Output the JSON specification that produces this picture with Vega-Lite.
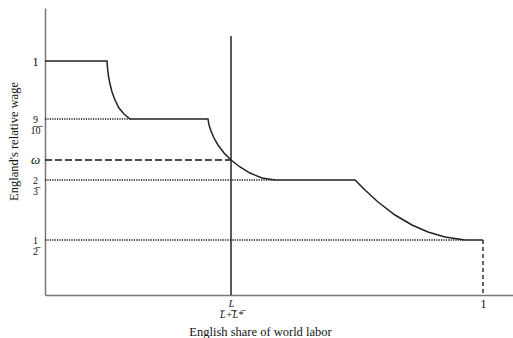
{
  "$schema": "https://vega.github.io/schema/vega-lite/v6.json",
  "width": 468,
  "height": 287,
  "autosize": "none",
  "padding": {"left": 45, "top": 8, "right": 0, "bottom": 43},
  "background": "white",
  "config": {"view": {"stroke": null}, "font": "Liberation Serif"},
  "datasets": {
    "curve": [
      {"i": 0, "share": 0, "wage": 1},
      {"i": 1, "share": 0.1416, "wage": 1},
      {"i": 2, "share": 0.1427, "wage": 0.9879},
      {"i": 3, "share": 0.145, "wage": 0.9741},
      {"i": 4, "share": 0.1484, "wage": 0.9603},
      {"i": 5, "share": 0.153, "wage": 0.9466},
      {"i": 6, "share": 0.1598, "wage": 0.9328},
      {"i": 7, "share": 0.1689, "wage": 0.919},
      {"i": 8, "share": 0.1804, "wage": 0.9086},
      {"i": 9, "share": 0.1941, "wage": 0.9},
      {"i": 10, "share": 0.3721, "wage": 0.9},
      {"i": 11, "share": 0.3744, "wage": 0.8771},
      {"i": 12, "share": 0.379, "wage": 0.8541},
      {"i": 13, "share": 0.3858, "wage": 0.8273},
      {"i": 14, "share": 0.395, "wage": 0.8006},
      {"i": 15, "share": 0.4087, "wage": 0.7699},
      {"i": 16, "share": 0.4247, "wage": 0.7432},
      {"i": 17, "share": 0.4452, "wage": 0.7164},
      {"i": 18, "share": 0.468, "wage": 0.6934},
      {"i": 19, "share": 0.4954, "wage": 0.6743},
      {"i": 20, "share": 0.5251, "wage": 0.6667},
      {"i": 21, "share": 0.7078, "wage": 0.6667},
      {"i": 22, "share": 0.7306, "wage": 0.6389},
      {"i": 23, "share": 0.7603, "wage": 0.6056},
      {"i": 24, "share": 0.7991, "wage": 0.5694},
      {"i": 25, "share": 0.8379, "wage": 0.5417},
      {"i": 26, "share": 0.8744, "wage": 0.5222},
      {"i": 27, "share": 0.9132, "wage": 0.5083},
      {"i": 28, "share": 0.9589, "wage": 0.5},
      {"i": 29, "share": 1.0, "wage": 0.5}
    ],
    "levels": [
      {"share": 0, "share2": 0.1941, "wage": 0.9},
      {"share": 0, "share2": 0.5251, "wage": 0.6667},
      {"share": 0, "share2": 0.9589, "wage": 0.5}
    ],
    "omega": [
      {"share": 0, "share2": 0.4247, "wage": 0.7432}
    ],
    "supply": [
      {"share": 0.4247, "wage": 1.0431, "wage2": 0.3472}
    ],
    "endpoint": [
      {"share": 1.0, "wage": 0.5, "wage2": 0.3472}
    ]
  },
  "layer": [
    {
      "data": {"name": "levels"},
      "mark": {"type": "rule", "color": "#111", "strokeWidth": 1.3, "strokeDash": [1.2, 1.2]},
      "encoding": {
        "x": {
          "field": "share", "type": "quantitative",
          "scale": {"domain": [0, 1.0685], "nice": false, "zero": false},
          "axis": {
            "values": [0.4247, 1],
            "title": "English share of world labor",
            "titleFont": "Liberation Serif",
            "titleFontSize": 12.5,
            "titleFontWeight": "normal",
            "titleColor": "#111",
            "titleX": 215,
            "titleY": 40,
            "titleBaseline": "alphabetic",
            "ticks": false,
            "tickSize": 0,
            "grid": false,
            "domainColor": "#777",
            "domainWidth": 1.5,
            "labelOverlap": false,
            "labelFont": "Liberation Serif",
            "labelFontSize": {"condition": {"test": "datum.value < 0.9", "value": 10}, "value": 12},
            "labelColor": "#111",
            "labelBaseline": "top",
            "labelPadding": 3,
            "labelLineHeight": 11,
            "labelFontStyle": {"condition": {"test": "datum.value < 0.9", "value": "italic"}, "value": "normal"},
            "labelExpr": "datum.value > 0.9 ? '1' : ['L', 'L̅+̅L̅*̅']"
          }
        },
        "x2": {"field": "share2"},
        "y": {
          "field": "wage", "type": "quantitative",
          "scale": {
            "domain": [0.3472, 0.5, 0.6667, 0.9, 1, 1.0914],
            "range": [287, 232, 172, 111, 53, 0],
            "nice": false, "zero": false
          },
          "axis": {
            "values": [0.5, 0.6667, 0.7432, 0.9, 1],
            "title": "England's relative wage",
            "titleFont": "Liberation Serif",
            "titleFontSize": 12.5,
            "titleFontWeight": "normal",
            "titleColor": "#111",
            "titleAngle": -90,
            "titleX": -32,
            "titleY": 133,
            "titleBaseline": "middle",
            "ticks": false,
            "tickSize": 0,
            "grid": false,
            "domainColor": "#777",
            "domainWidth": 1.5,
            "labelOverlap": false,
            "labelFont": "Liberation Serif",
            "labelFontSize": {"condition": {"test": "datum.value > 0.95 || (datum.value > 0.7 && datum.value < 0.8)", "value": 13}, "value": 10},
            "labelColor": "#111",
            "labelAlign": "center",
            "labelBaseline": "middle",
            "labelPadding": 10,
            "labelLineHeight": 11,
            "labelFontStyle": {"condition": {"test": "datum.value > 0.7 && datum.value < 0.8", "value": "italic"}, "value": "normal"},
            "labelExpr": "datum.value > 0.95 ? '1' : datum.value > 0.85 ? ['9', '1̅0̅'] : datum.value > 0.7 ? 'ω' : datum.value > 0.6 ? ['2', '3̅'] : ['1', '2̅']"
          }
        }
      }
    },
    {
      "data": {"name": "omega"},
      "mark": {"type": "rule", "color": "#111", "strokeWidth": 1.4, "strokeDash": [7, 3]},
      "encoding": {
        "x": {"field": "share", "type": "quantitative"},
        "x2": {"field": "share2"},
        "y": {"field": "wage", "type": "quantitative"}
      }
    },
    {
      "data": {"name": "supply"},
      "mark": {"type": "rule", "color": "#333", "strokeWidth": 1.6},
      "encoding": {
        "x": {"field": "share", "type": "quantitative"},
        "y": {"field": "wage", "type": "quantitative"},
        "y2": {"field": "wage2"}
      }
    },
    {
      "data": {"name": "endpoint"},
      "mark": {"type": "rule", "color": "#111", "strokeWidth": 1.3, "strokeDash": [4, 3]},
      "encoding": {
        "x": {"field": "share", "type": "quantitative"},
        "y": {"field": "wage", "type": "quantitative"},
        "y2": {"field": "wage2"}
      }
    },
    {
      "data": {"name": "curve"},
      "mark": {"type": "line", "color": "#222", "strokeWidth": 1.5, "interpolate": "linear"},
      "encoding": {
        "x": {"field": "share", "type": "quantitative"},
        "y": {"field": "wage", "type": "quantitative"},
        "order": {"field": "i", "type": "quantitative"}
      }
    }
  ]
}
